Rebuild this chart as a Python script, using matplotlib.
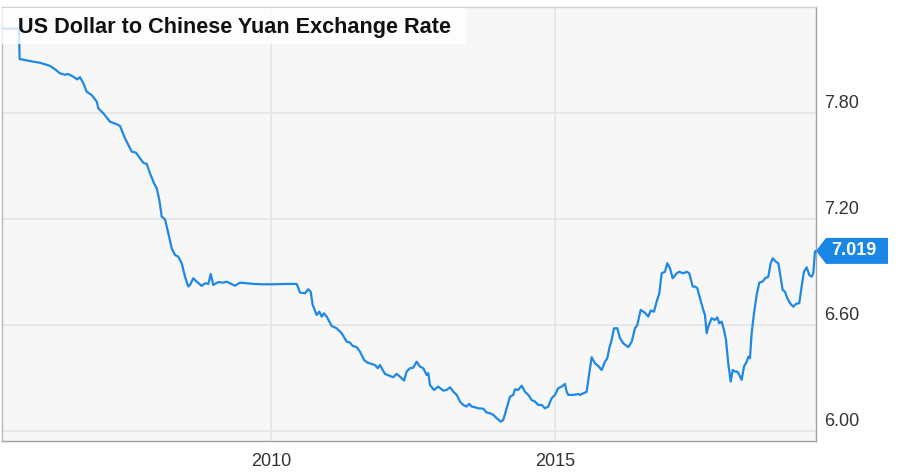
import matplotlib
matplotlib.use("Agg")
import matplotlib.pyplot as plt
from matplotlib.patches import Polygon, Rectangle
from matplotlib.transforms import ScaledTranslation

title = "US Dollar to Chinese Yuan Exchange Rate"
last_label = "7.019"

# decimal years
dates = [2005.0, 2005.56, 2005.57, 2005.811, 2005.929, 2006.105, 2006.193, 2006.281, 2006.369, 2006.427,
         2006.515, 2006.586, 2006.633, 2006.692, 2006.751, 2006.839, 2006.928, 2006.956, 2007.044, 2007.162,
         2007.280, 2007.338, 2007.426, 2007.544, 2007.620, 2007.690, 2007.748, 2007.808, 2007.866, 2007.936,
         2007.984, 2008.030, 2008.072, 2008.130, 2008.188, 2008.248, 2008.306, 2008.364, 2008.424, 2008.482,
         2008.540, 2008.570, 2008.628, 2008.688, 2008.776, 2008.834, 2008.892, 2008.935, 2008.980, 2009.068,
         2009.156, 2009.216, 2009.274, 2009.362, 2009.450, 2009.568, 2009.685, 2009.861, 2010.037, 2010.273,
         2010.449, 2010.507, 2010.595, 2010.653, 2010.695, 2010.730, 2010.801, 2010.847, 2010.889, 2010.929,
         2010.977, 2011.065, 2011.153, 2011.241, 2011.329, 2011.387, 2011.435, 2011.505, 2011.563, 2011.634,
         2011.692, 2011.769, 2011.827, 2011.875, 2011.915, 2011.963, 2012.003, 2012.091, 2012.149, 2012.209,
         2012.267, 2012.338, 2012.385, 2012.443, 2012.501, 2012.561, 2012.619, 2012.677, 2012.737, 2012.766,
         2012.795, 2012.866, 2012.941, 2013.030, 2013.089, 2013.148, 2013.206, 2013.266, 2013.324, 2013.382,
         2013.441, 2013.487, 2013.530, 2013.588, 2013.646, 2013.734, 2013.794, 2013.852, 2013.910, 2013.970,
         2014.040, 2014.086, 2014.146, 2014.204, 2014.262, 2014.292, 2014.350, 2014.410, 2014.468, 2014.526,
         2014.586, 2014.644, 2014.702, 2014.762, 2014.820, 2014.878, 2014.938, 2014.996, 2015.054, 2015.114,
         2015.172, 2015.202, 2015.231, 2015.319, 2015.407, 2015.437, 2015.495, 2015.554, 2015.600, 2015.642,
         2015.700, 2015.758, 2015.818, 2015.876, 2015.917, 2015.952, 2015.994, 2016.035, 2016.093, 2016.141,
         2016.199, 2016.287, 2016.347, 2016.405, 2016.446, 2016.505, 2016.581, 2016.639, 2016.681, 2016.739,
         2016.787, 2016.833, 2016.875, 2016.933, 2016.973, 2017.021, 2017.068, 2017.139, 2017.185, 2017.255,
         2017.315, 2017.361, 2017.421, 2017.461, 2017.502, 2017.549, 2017.607, 2017.637, 2017.667, 2017.695,
         2017.755, 2017.813, 2017.853, 2017.889, 2017.931, 2017.971, 2018.007, 2018.047, 2018.090, 2018.125,
         2018.165, 2018.206, 2018.241, 2018.283, 2018.324, 2018.372, 2018.400, 2018.429, 2018.459, 2018.500,
         2018.547, 2018.593, 2018.653, 2018.694, 2018.752, 2018.794, 2018.829, 2018.887, 2018.928, 2018.958,
         2019.005, 2019.046, 2019.086, 2019.134, 2019.192, 2019.239, 2019.297, 2019.339, 2019.380, 2019.427,
         2019.473, 2019.515, 2019.544, 2019.574, 2019.592]

rates = [8.277, 8.277, 8.105, 8.090, 8.084, 8.066, 8.047, 8.024, 8.016, 8.020,
         8.005, 7.990, 8.002, 7.968, 7.920, 7.901, 7.864, 7.826, 7.798, 7.750,
         7.736, 7.726, 7.656, 7.581, 7.575, 7.543, 7.518, 7.511, 7.458, 7.402,
         7.373, 7.307, 7.213, 7.198, 7.119, 7.034, 6.996, 6.986, 6.949, 6.873,
         6.817, 6.826, 6.864, 6.845, 6.821, 6.836, 6.832, 6.888, 6.826, 6.843,
         6.839, 6.845, 6.836, 6.822, 6.839, 6.836, 6.832, 6.830, 6.830, 6.832,
         6.832, 6.783, 6.779, 6.802, 6.788, 6.713, 6.656, 6.675, 6.647, 6.666,
         6.647, 6.594, 6.581, 6.553, 6.505, 6.500, 6.481, 6.474, 6.449, 6.402,
         6.387, 6.379, 6.373, 6.355, 6.373, 6.345, 6.323, 6.311, 6.304, 6.323,
         6.307, 6.285, 6.336, 6.355, 6.358, 6.392, 6.364, 6.355, 6.317, 6.327,
         6.260, 6.232, 6.251, 6.228, 6.232, 6.247, 6.222, 6.204, 6.166, 6.147,
         6.138, 6.153, 6.138, 6.134, 6.128, 6.126, 6.104, 6.100, 6.091, 6.072,
         6.053, 6.062, 6.128, 6.194, 6.204, 6.236, 6.232, 6.256, 6.222, 6.204,
         6.175, 6.166, 6.147, 6.147, 6.128, 6.138, 6.185, 6.204, 6.242, 6.251,
         6.266, 6.222, 6.204, 6.204, 6.209, 6.204, 6.213, 6.222, 6.327, 6.417,
         6.383, 6.368, 6.345, 6.392, 6.411, 6.468, 6.515, 6.581, 6.581, 6.525,
         6.496, 6.474, 6.505, 6.581, 6.600, 6.685, 6.669, 6.647, 6.681, 6.675,
         6.732, 6.779, 6.892, 6.901, 6.949, 6.921, 6.864, 6.892, 6.901, 6.892,
         6.901, 6.892, 6.817, 6.817, 6.808, 6.751, 6.685, 6.656, 6.553, 6.590,
         6.638, 6.628, 6.643, 6.609, 6.619, 6.572, 6.515, 6.383, 6.279, 6.345,
         6.336, 6.336, 6.317, 6.289, 6.364, 6.392, 6.420, 6.411, 6.553, 6.666,
         6.770, 6.839, 6.845, 6.864, 6.873, 6.949, 6.977, 6.958, 6.949, 6.892,
         6.798, 6.788, 6.751, 6.723, 6.703, 6.719, 6.723, 6.817, 6.901, 6.926,
         6.883, 6.873, 6.892, 7.015, 7.019]

y_ticks = [6.00, 6.60, 7.20, 7.80]
y_tick_labels = ["6.00", "6.60", "7.20", "7.80"]
x_ticks = [2010, 2015]
x_tick_labels = ["2010", "2015"]

W, H = 913, 472
DPI = 100
LINE = "#1e88e5"

plt.rcParams["font.family"] = ["Liberation Sans", "DejaVu Sans"]

fig = plt.figure(figsize=(W / DPI, H / DPI), dpi=DPI, facecolor="white")
ax = fig.add_axes([2 / W, (H - 441) / H, (816 - 2) / W, (441 - 7) / H])
ax.set_facecolor("#f7f7f7")

ax.plot(dates, rates, color=LINE, lw=1.6, solid_joinstyle="round", zorder=3)

ax.set_xlim(2005.26, dates[-1])
ax.set_ylim(5.943, 8.3995)

ax.set_yticks(y_ticks)
ax.set_yticklabels(y_tick_labels)
ax.set_xticks(x_ticks)
ax.set_xticklabels(x_tick_labels)
ax.yaxis.tick_right()
ax.tick_params(axis="y", length=0, pad=6, labelsize=13, labelcolor="#333333")
ax.tick_params(axis="x", length=0, pad=8.5, labelsize=13, labelcolor="#333333")
offset = ScaledTranslation(0, 11 / DPI, fig.dpi_scale_trans)
for lab in ax.get_yticklabels():
    lab.set_transform(lab.get_transform() + offset)

ax.grid(True, color="#e4e4e4", lw=1.2, zorder=0)
ax.set_axisbelow(True)
for side in ["left", "right", "bottom", "top"]:
    ax.spines[side].set_color("#a0a0a0")
    ax.spines[side].set_linewidth(1.0)
ax.spines["top"].set_color("#cfcfcf")
ax.spines["left"].set_color("#b8b8b8")

# title box
def px(x, y):
    return (x / W, 1 - y / H)

x0, y0 = px(2, 44)
x1, y1 = px(466, 8)
fig.patches.append(Rectangle((x0, y0), x1 - x0, y1 - y0, transform=fig.transFigure,
                             facecolor="white", alpha=0.8, edgecolor="none", zorder=5))
tx, ty = px(18, 33)
fig.text(tx, ty, title, fontsize=15.6, fontweight="bold", color="#111111",
         ha="left", va="baseline", zorder=6)

# last value tag
tip = ax.transData.transform((dates[-1], rates[-1]))
tipx, tipy = tip[0], H - tip[1]
verts_px = [(tipx, tipy), (tipx + 10, tipy - 13), (888, tipy - 13), (888, tipy + 13), (tipx + 10, tipy + 13)]
verts = [px(vx, vy) for vx, vy in verts_px]
fig.patches.append(Polygon(verts, closed=True, transform=fig.transFigure,
                           facecolor="#1a87e6", edgecolor="none", zorder=5))
lx, ly = px(854, tipy)
fig.text(lx, ly, last_label, fontsize=13, fontweight="bold", color="white",
         ha="center", va="center", zorder=6)

fig.savefig("out.png", dpi=DPI, facecolor="white")
